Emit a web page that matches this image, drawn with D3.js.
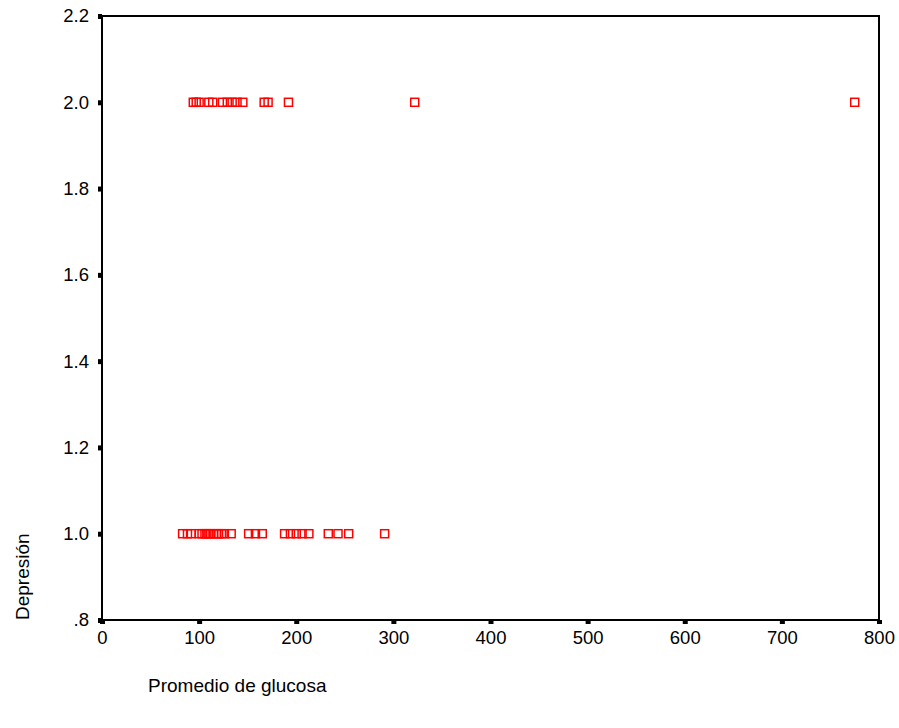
<!DOCTYPE html>
<html>
<head>
<meta charset="utf-8">
<script src="https://cdn.jsdelivr.net/npm/d3@7"></script>
<style>
  body { margin: 0; background: #fff; }
  text { font-family: "Liberation Sans", Arial, sans-serif; fill: #000; }
</style>
</head>
<body>
<div id="chart"></div>
<script>
// glucose averages for each depression group
var glucoseDep2 = [94, 97, 100, 110, 114, 124, 129, 134, 139, 145, 167, 171, 192, 322, 775];
var glucoseDep1 = [83, 88, 92, 100, 103, 106, 108, 110, 112, 115, 118, 120, 123, 126, 133,
                   151, 158, 165, 188, 194, 200, 206, 213, 233, 243, 254, 291];
var xTicks = [0, 100, 200, 300, 400, 500, 600, 700, 800];
var yTicks = [0.8, 1.0, 1.2, 1.4, 1.6, 1.8, 2.0, 2.2];

var data = glucoseDep2.map(function(g) { return {x: g, y: 2}; })
  .concat(glucoseDep1.map(function(g) { return {x: g, y: 1}; }));

var W = 899, H = 728;
var margin = {top: 16, right: 20, bottom: 108, left: 102};
var width = 879 - margin.left, height = 620 - margin.top;

var svg = d3.select("#chart").append("svg")
    .attr("width", W).attr("height", H)
  .append("g")
    .attr("transform", "translate(" + margin.left + "," + margin.top + ")");

var x = d3.scaleLinear().domain([0, 800]).range([0, width]);
var y = d3.scaleLinear().domain([0.8, 2.2]).range([height, 0]);

// frame
svg.append("rect")
  .attr("width", width).attr("height", height)
  .attr("fill", "none").attr("stroke", "#000").attr("stroke-width", 2);

// x axis
var xAxis = svg.append("g")
  .attr("transform", "translate(0," + height + ")")
  .call(d3.axisBottom(x).tickValues(xTicks).tickSize(0).tickPadding(11));
xAxis.select(".domain").remove();
xAxis.selectAll("text").style("font-size", "18.5px");
xAxis.selectAll(".tick").append("rect")
  .attr("x", -2.5).attr("y", 0).attr("width", 5).attr("height", 4).attr("fill", "#000");

// y axis
var yAxis = svg.append("g")
  .call(d3.axisLeft(y).tickValues(yTicks).tickSize(0).tickPadding(13)
    .tickFormat(function(d) { return d < 1 ? d3.format(".1f")(d).replace(/^0/, "") : d3.format(".1f")(d); }));
yAxis.select(".domain").remove();
yAxis.selectAll("text").style("font-size", "18.5px");
yAxis.selectAll(".tick").append("rect")
  .attr("x", -4).attr("y", -2.5).attr("width", 4).attr("height", 5).attr("fill", "#000");

// points
svg.selectAll("rect.pt")
  .data(data)
  .enter()
  .append("rect")
    .attr("class", "pt")
    .attr("x", function(d) { return x(d.x) - 4; })
    .attr("y", function(d) { return y(d.y) - 4; })
    .attr("width", 8).attr("height", 8)
    .attr("fill", "none").attr("stroke", "#ff0000").attr("stroke-width", 1.5);

// axis titles
svg.append("text")
  .attr("x", 148 - margin.left).attr("y", 692 - margin.top)
  .style("font-size", "19px")
  .text("Promedio de glucosa");

svg.append("text")
  .attr("transform", "translate(" + (29 - margin.left) + "," + (620 - margin.top) + ") rotate(-90)")
  .style("font-size", "19px")
  .text("Depresión");
</script>
</body>
</html>
